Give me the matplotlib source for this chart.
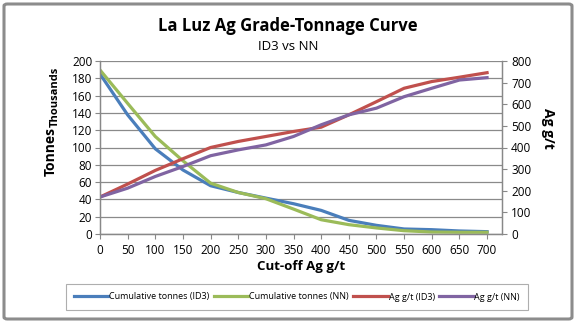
import matplotlib
matplotlib.use("Agg")
import matplotlib.pyplot as plt
from matplotlib.patches import FancyBboxPatch

plt.rcParams['font.family'] = ['Open Sans', 'DejaVu Sans']

cutoff = [0, 50, 100, 150, 200, 250, 300, 350, 400, 450, 500, 550, 600, 650, 700]
tonnes_id3 = [185, 137.7, 98.5, 74, 55.8, 48, 41.5, 35, 27.3, 15.8, 10, 5.8, 5, 3.5, 2.7]
tonnes_nn = [189.6, 151, 112.7, 84.6, 58.8, 48, 40.8, 28.8, 16.5, 10.8, 7, 3.8, 2.3, 2, 2]
grade_id3 = [171, 231, 294, 348, 400, 428, 451, 474, 494, 551, 612, 674, 705, 725, 746]
grade_nn = [171, 212, 266, 312, 362, 389, 412, 451, 505, 551, 582, 635, 674, 712, 723]

labels = ["Cumulative tonnes (ID3)", "Cumulative tonnes (NN)", "Ag g/t (ID3)", "Ag g/t (NN)"]
colors = ["#4A7EBB", "#9BBB59", "#C0504D", "#8064A2"]
x_ticks = list(range(0, 701, 50))
left_ticks = list(range(0, 201, 20))
right_ticks = list(range(0, 801, 100))

fig = plt.figure(figsize=(5.76, 3.23), dpi=100)
fig.patch.set_facecolor("white")

border = FancyBboxPatch((4/576, 4/323), 568/576, 315/323,
                        boxstyle="round,pad=0,rounding_size=0.006",
                        transform=fig.transFigure, fill=False,
                        edgecolor="#8c8c8c", linewidth=2.2)
fig.patches.append(border)

ax = fig.add_axes([100/576, 1-234/323, 402/576, 173/323])
ax2 = ax.twinx()

lw = 2.3
l1, = ax.plot(cutoff, tonnes_id3, color=colors[0], lw=lw, label=labels[0])
l2, = ax.plot(cutoff, tonnes_nn, color=colors[1], lw=lw, label=labels[1])
l3, = ax2.plot(cutoff, grade_id3, color=colors[2], lw=lw, label=labels[2])
l4, = ax2.plot(cutoff, grade_nn, color=colors[3], lw=lw, label=labels[3])

ax.set_xlim(0, 727)
ax.set_ylim(0, 200)
ax2.set_ylim(0, 800)
ax.set_xticks(x_ticks)
ax.set_yticks(left_ticks)
ax2.set_yticks(right_ticks)

tick_fs = 8.5
ax.tick_params(axis='x', labelsize=tick_fs, length=3.5, color="#888888", pad=4, direction='out')
ax.tick_params(axis='y', labelsize=tick_fs, length=3.5, color="#888888", pad=2, direction='out')
ax2.tick_params(axis='y', labelsize=tick_fs, length=3.5, color="#888888", pad=3, direction='out')

ax.grid(axis='y', color="#8a8a8a", linewidth=0.9)
ax.set_axisbelow(True)
for a in (ax, ax2):
    a.spines['top'].set_visible(False)
    for s in ('left', 'bottom', 'right'):
        a.spines[s].set_color("#888888")
        a.spines[s].set_linewidth(0.9)

ax.set_xlabel("Cut-off Ag g/t", fontsize=9.5, fontweight='bold', labelpad=2)

fig.text(51/576, 1-151/323, "Tonnes", rotation=90, fontsize=10, fontweight='bold',
         ha='center', va='center')
fig.text(55/576, 1-97/323, "Thousands", rotation=90, fontsize=8, fontweight='bold',
         ha='center', va='center')
fig.text(548/576, 1-128/323, "Ag g/t", rotation=-90, fontsize=10, fontweight='bold',
         ha='center', va='center')

fig.text(288/576, 1-26/323, "La Luz Ag Grade-Tonnage Curve", fontsize=12,
         fontweight='bold', ha='center', va='center')
fig.text(288/576, 1-47/323, "ID3 vs NN", fontsize=9.5, ha='center', va='center')

leg = fig.legend(handles=[l1, l2, l3, l4], loc='center', ncol=4,
                 bbox_to_anchor=(297/576, 1-297/323), fontsize=6.5,
                 frameon=True, fancybox=False, handlelength=3.8,
                 handletextpad=0.1, columnspacing=0.5, borderpad=0.9)
leg.get_frame().set_edgecolor("#9a9a9a")
leg.get_frame().set_linewidth(0.8)

fig.savefig("out.png", dpi=100)
